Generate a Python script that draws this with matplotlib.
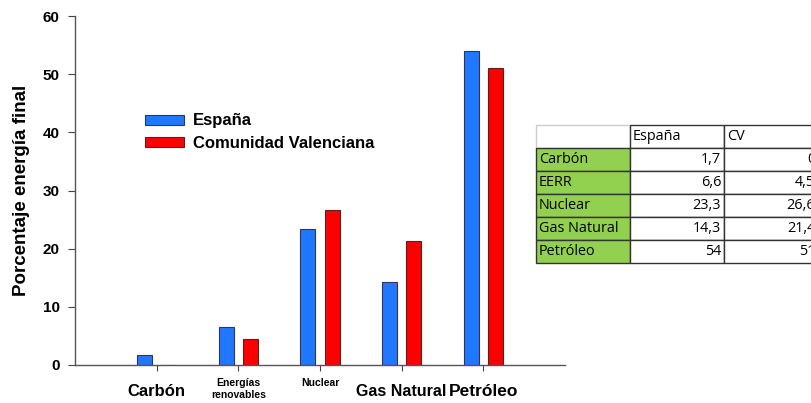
import numpy as np
import matplotlib.pyplot as plt
import matplotlib.transforms as mtrans
from matplotlib.table import Table

plt.rcParams['font.family'] = ['Liberation Sans', 'DejaVu Sans']

categories = ['Carbón', 'Energías\nrenovables', 'Nuclear', 'Gas Natural', 'Petróleo']
espana = [1.7, 6.6, 23.3, 14.3, 54]
cv = [0, 4.5, 26.6, 21.4, 51]

# table shown on the right
table_rows = ['Carbón', 'EERR', 'Nuclear', 'Gas Natural', 'Petróleo']
table_header = ['', 'España', 'CV']
table_espana = ['1,7', '6,6', '23,3', '14,3', '54']
table_cv = ['0', '4,5', '26,6', '21,4', '51']

W, H = 811, 403
fig = plt.figure(figsize=(W / 100, H / 100), dpi=100)
ax = fig.add_axes([75 / W, (H - 365) / H, 490 / W, 349 / H])

x = np.arange(len(categories))
bw = 0.185
off = 0.148
ax.bar(x - off, espana, bw, color='#1f78ff', edgecolor='#333355', linewidth=0.8, label='España')
ax.bar(x + off, cv, bw, color='#ff0000', edgecolor='#552222', linewidth=0.8, label='Comunidad Valenciana')

ax.set_xlim(-1, 5)
ax.set_ylim(0, 60)
ax.set_yticks(range(0, 61, 10))
ax.set_xticks(x)
ax.set_xticklabels(categories)

# label sizes and small horizontal nudges (pixels) as in the original
sizes = [12, 7.5, 7.5, 11.5, 12.5]
nudges = [0, 0, -13, -7, -5]
for i, lab in enumerate(ax.get_xticklabels()):
    lab.set_fontweight('bold')
    lab.set_fontsize(sizes[i])
    if i in (1, 2):
        lab.set_family(['Liberation Sans Narrow', 'Liberation Sans'])
        lab.set_linespacing(1.35)
    else:
        lab.set_y(-0.02)
    lab.set_transform(lab.get_transform() +
                      mtrans.ScaledTranslation(nudges[i] / 100, 0, fig.dpi_scale_trans))
for lab in ax.get_yticklabels():
    lab.set_fontweight('bold')
    lab.set_fontsize(11)

ax.tick_params(axis='y', length=5, width=0.8, color='#444444', pad=6)
ax.tick_params(axis='x', length=4, width=0.8, color='#444444', pad=5)
for s in ['top', 'right']:
    ax.spines[s].set_visible(False)
for s in ['left', 'bottom']:
    ax.spines[s].set_color('#555555')
    ax.spines[s].set_linewidth(1.0)

ax.set_ylabel('Porcentaje energía final', fontsize=13.5, fontweight='bold', labelpad=9)

leg = ax.legend(loc='center left', bbox_to_anchor=(0.113, 0.667), frameon=False,
                handlelength=2.3, handleheight=0.55, labelspacing=0.45, handletextpad=0.55,
                prop={'weight': 'bold', 'size': 12})

# data table
tax = fig.add_axes([536 / W, (H - 263) / H, 282 / W, 138 / H])
tax.axis('off')
tb = Table(tax, bbox=[0, 0, 1, 1])
cw, ch = 1 / 3, 1 / 6
fs = 10.4
for c, txt in enumerate(table_header):
    tb.add_cell(0, c, cw, ch, text=txt, loc='left', facecolor='white',
                edgecolor='#cccccc' if c == 0 else '#333333')
for r in range(len(table_rows)):
    tb.add_cell(r + 1, 0, cw, ch, text=table_rows[r], loc='left', facecolor='#92d050', edgecolor='#333333')
    tb.add_cell(r + 1, 1, cw, ch, text=table_espana[r], loc='right', facecolor='white', edgecolor='#333333')
    tb.add_cell(r + 1, 2, cw, ch, text=table_cv[r], loc='right', facecolor='white', edgecolor='#333333')
tb.auto_set_font_size(False)
for (r, c), cell in tb.get_celld().items():
    cell.set_fontsize(fs)
    cell.get_text().set_family(['Open Sans', 'DejaVu Sans'])
    cell.PAD = 0.03
    cell.set_linewidth(1.0)
tax.add_table(tb)

fig.savefig('out.png', dpi=100)
